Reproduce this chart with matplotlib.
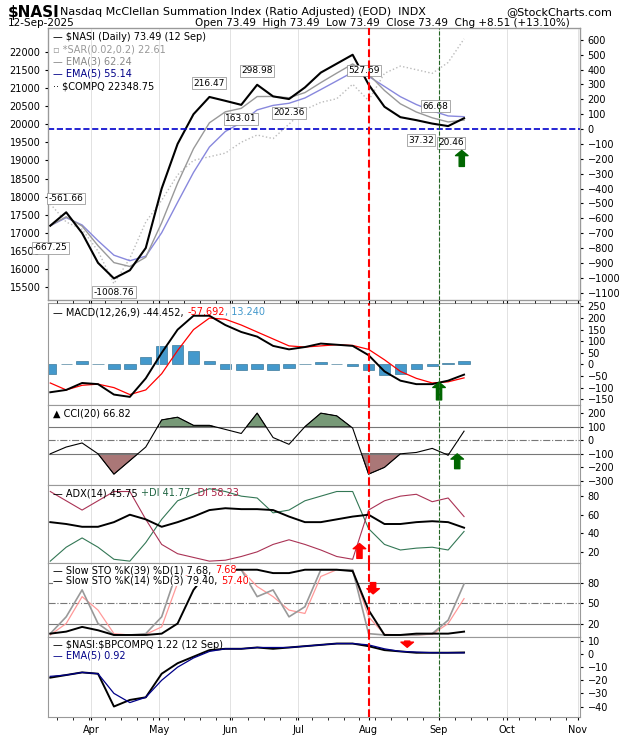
import numpy as np
import pandas as pd
import matplotlib
matplotlib.use("Agg")
import matplotlib.pyplot as plt
import matplotlib.dates as mdates

# weekly samples
dates = pd.date_range("2025-03-14", "2025-09-12", freq="W-FRI")
nasi = [-650, -560, -700, -900, -1005, -950, -800, -400, -100, 100, 216, 190, 163, 298, 220, 202,
        280, 380, 440, 500, 300, 150, 80, 60, 37, 20, 73]
compq = [17800, 17300, 17100, 16500, 15600, 16300, 17300, 17900, 18600, 19000, 19100, 19200, 19500,
         19700, 19600, 20000, 20400, 20600, 20700, 21100, 20650, 21400, 21600, 21500, 21400, 21700, 22350]
macd = [-120, -110, -80, -85, -130, -140, -60, 50, 150, 210, 210, 170, 140, 120, 80, 65,
        75, 90, 85, 80, 40, -30, -70, -85, -85, -70, -44]
signal = [-80, -110, -90, -85, -100, -130, -110, -40, 60, 150, 200, 195, 170, 140, 110, 80,
          75, 80, 85, 82, 65, 20, -30, -60, -80, -75, -58]
hist = [-40, 0, 15, 0, -20, -20, 30, 80, 85, 60, 15, -20, -25, -20, -25, -15,
        0, 10, 0, -5, -25, -45, -40, -20, -5, 5, 13]
cci = [-100, -50, -20, -100, -250, -150, -50, 150, 170, 110, 110, 80, 50, 200, 20, -30,
       100, 200, 180, 90, -250, -200, -100, -90, -60, -110, 67]
adx = [52, 50, 47, 47, 52, 60, 55, 47, 52, 58, 65, 67, 66, 66, 65, 58, 52, 52, 55, 58, 60, 50, 50, 52, 53, 52, 46]
pdi = [10, 25, 35, 25, 12, 10, 30, 55, 75, 82, 88, 85, 80, 78, 62, 65, 75, 80, 85, 85, 45, 28, 22, 24, 25, 22, 42]
mdi = [85, 75, 65, 75, 85, 85, 55, 28, 18, 14, 10, 11, 15, 20, 28, 33, 28, 22, 15, 12, 65, 75, 80, 82, 74, 78, 58]
k39 = [5, 8, 15, 10, 3, 3, 3, 5, 20, 70, 100, 100, 100, 100, 95, 95, 100, 100, 100, 98, 40, 3, 3, 5, 5, 5, 8]
k14 = [5, 30, 70, 20, 3, 3, 5, 30, 100, 100, 100, 100, 100, 60, 70, 30, 45, 100, 100, 100, 5, 3, 3, 3, 5, 25, 79]
d3 = [3, 20, 60, 40, 5, 3, 4, 15, 80, 100, 100, 100, 100, 75, 60, 40, 35, 90, 100, 100, 30, 4, 3, 3, 4, 20, 57]
ratio = [-18, -16, -14, -15, -40, -35, -33, -15, -7, -2, 3, 4, 4, 5, 4, 5, 6, 7, 8, 8, 6, 3, 2, 1, 1, 1, 1.2]
ratio_ema = [-17, -16, -14, -15, -30, -37, -33, -20, -10, -3, 2, 4, 4, 5, 5, 5, 6, 7, 8, 8, 7, 4, 2, 1.5, 1, 1, 0.9]

# peak/trough labels: date, text, offset in points
nasi_labels = [("2025-03-21", "-561.66", (0, 10)), ("2025-03-14", "-667.25", (0, -16)),
               ("2025-04-11", "-1008.76", (0, -10)), ("2025-05-23", "216.47", (0, 10)),
               ("2025-06-06", "163.01", (0, -10)), ("2025-06-13", "298.98", (0, 10)),
               ("2025-06-27", "202.36", (0, -10)), ("2025-07-30", "527.69", (0, 10)),
               ("2025-08-22", "66.68", (14, 10)), ("2025-08-29", "37.32", (-8, -12)),
               ("2025-09-05", "20.46", (2, -12))]

plt.rcParams["font.family"] = "DejaVu Sans"
plt.rcParams["font.size"] = 7.5
W, H = 620, 750
fig = plt.figure(figsize=(6.2, 7.5), dpi=100)
L, R = 48 / W, 580 / W


def panel(top, bot):
    return fig.add_axes([L, 1 - bot / H, R - L, (bot - top) / H])


def legend_line(ax, y, parts, bg=False):
    # parts: list of (text, colour), drawn one after another
    kw = dict(bbox=dict(fc="white", ec="none", pad=0)) if bg else {}
    t = ax.text(0.01, y, parts[0][0], transform=ax.transAxes, fontsize=7, va="top", color=parts[0][1], **kw)
    for s, c in parts[1:]:
        t = ax.annotate(s, xy=(1, 1), xycoords=t, va="top", fontsize=7, color=c, **kw)


def arrow(ax, x, y0, y1, color):
    ax.annotate("", (pd.Timestamp(x), y1), xytext=(pd.Timestamp(x), y0),
                arrowprops=dict(arrowstyle="simple,head_width=1.2,tail_width=0.5", color=color))


xmin, xmax = pd.Timestamp("2025-03-13"), pd.Timestamp("2025-11-02")
aug, sep = pd.Timestamp("2025-08-01"), pd.Timestamp("2025-09-01")

fig.text(8 / W, 1 - 12 / H, "$NASI", fontsize=11, weight="bold", va="center")
fig.text(60 / W, 1 - 12 / H, "Nasdaq McClellan Summation Index (Ratio Adjusted) (EOD)  INDX", fontsize=8, va="center")
fig.text(612 / W, 1 - 12 / H, "@StockCharts.com", fontsize=8, va="center", ha="right")
fig.text(8 / W, 1 - 23 / H, "12-Sep-2025", fontsize=7.5, va="center")
fig.text(570 / W, 1 - 23 / H, "Open 73.49  High 73.49  Low 73.49  Close 73.49  Chg +8.51 (+13.10%)",
         fontsize=7.5, va="center", ha="right")

panels = [panel(28, 300), panel(303, 405), panel(405, 485), panel(485, 563), panel(563, 637), panel(637, 717)]
for ax in panels:
    ax.set_xlim(xmin, xmax)
    ax.yaxis.tick_right()
    ax.tick_params(labelsize=7, length=2)
    ax.xaxis.set_major_locator(mdates.MonthLocator())
    ax.xaxis.set_minor_locator(mdates.WeekdayLocator(byweekday=0))
    ax.grid(axis="x", color="#dddddd", lw=0.6)
    ax.axvline(aug, color="red", ls="--", lw=1.5, zorder=5)
    ax.axvline(sep, color="#226622", ls="--", lw=0.8, zorder=5)
    for s in ax.spines.values():
        s.set_color("#999999")
    if ax is not panels[-1]:
        ax.set_xticklabels([])
panels[-1].xaxis.set_major_formatter(mdates.DateFormatter("%b"))

# main panel
ax0 = panels[0]
axc = ax0.twinx()
axc.yaxis.tick_left()
ax0.yaxis.tick_right()
axc.set_ylim(15150, 22650)
axc.set_yticks(np.arange(15500, 22001, 500))
axc.tick_params(labelsize=7, length=2)
axc.plot(dates, compq, color="#bbbbbb", ls=":", lw=1)
ax0.set_zorder(axc.get_zorder() + 1)
ax0.patch.set_visible(False)
ax0.set_ylim(-1150, 680)
ax0.set_yticks(np.arange(-1100, 601, 100))
nasi_s = pd.Series(nasi, index=dates)
ax0.plot(dates, nasi_s.ewm(span=5).mean(), color="#8888dd", lw=1)
ax0.plot(dates, nasi_s.ewm(span=3).mean(), color="#999999", lw=1)
ax0.plot(dates, nasi, color="black", lw=1.5)
ax0.axhline(0, color="#0000cc", ls="--", lw=1.2)
for d, t, off in nasi_labels:
    v = nasi[np.argmin(abs(dates - pd.Timestamp(d)))]
    ax0.annotate(t, (pd.Timestamp(d), v), xytext=off, textcoords="offset points",
                 ha="center", va="center", fontsize=6.5, bbox=dict(fc="white", ec="#888888", lw=0.5, pad=1))
leg0 = [("— $NASI (Daily) 73.49 (12 Sep)", "black"), ("▫ *SAR(0.02,0.2) 22.61", "#999999"),
        ("— EMA(3) 62.24", "#888888"), ("— EMA(5) 55.14", "#000088"), ("·· $COMPQ 22348.75", "black")]
for i, (t, c) in enumerate(leg0):
    ax0.text(0.01, 0.985 - i * 0.045, t, transform=ax0.transAxes, color=c, fontsize=7, va="top")
arrow(ax0, "2025-09-11", -270, -125, "#006600")

# MACD
ax1 = panels[1]
ax1.set_ylim(-175, 265)
ax1.set_yticks(np.arange(-150, 251, 50))
ax1.bar(dates, hist, width=5, color="#4499cc", edgecolor="#226688", lw=0.4)
ax1.plot(dates, signal, color="red", lw=0.9)
ax1.plot(dates, macd, color="black", lw=1.4)
legend_line(ax1, 0.96, [("— MACD(12,26,9) -44.452, ", "black"), ("-57.692", "red"), (", 13.240", "#4499cc")])
arrow(ax1, "2025-09-01", -165, -65, "#006600")

# CCI
ax2 = panels[2]
ax2.set_ylim(-330, 260)
ax2.set_yticks(np.arange(-300, 201, 100))
ax2.axhline(100, color="#777777", lw=0.8)
ax2.axhline(-100, color="#777777", lw=0.8)
ax2.axhline(0, color="#777777", lw=0.8, ls="-.")
cci_a = np.array(cci)
ax2.fill_between(dates, 100, cci_a, where=cci_a > 100, interpolate=True, color="#779977", ec="black", lw=0.5)
ax2.fill_between(dates, -100, cci_a, where=cci_a < -100, interpolate=True, color="#aa7777", ec="black", lw=0.5)
ax2.plot(dates, cci, color="black", lw=0.8)
legend_line(ax2, 0.95, [("▲ CCI(20) 66.82", "black")])
arrow(ax2, "2025-09-09", -230, -80, "#006600")

# ADX
ax3 = panels[3]
ax3.set_ylim(8, 92)
ax3.set_yticks([20, 40, 60, 80])
ax3.plot(dates, pdi, color="#337755", lw=0.8)
ax3.plot(dates, mdi, color="#aa3355", lw=0.8)
ax3.plot(dates, adx, color="black", lw=1.4)
legend_line(ax3, 0.96, [("— ADX(14) 45.75 ", "black"), ("+DI 41.77 ", "#226644"), ("-DI 58.23", "#aa2244")])
arrow(ax3, "2025-07-28", 10, 32, "red")

# Stochastics
ax4 = panels[4]
ax4.set_ylim(0, 110)
ax4.set_yticks([20, 50, 80])
ax4.axhline(80, color="#777777", lw=0.8)
ax4.axhline(20, color="#777777", lw=0.8)
ax4.axhline(50, color="#777777", lw=0.8, ls="-.")
ax4.plot(dates, d3, color="#ff9999", lw=0.9)
ax4.plot(dates, k14, color="#999999", lw=1.2)
ax4.plot(dates, k39, color="black", lw=1.4)
legend_line(ax4, 0.97, [("— Slow STO %K(39) %D(1) 7.68, ", "black"), ("7.68", "red")], bg=True)
legend_line(ax4, 0.83, [("— Slow STO %K(14) %D(3) 79.40, ", "black"), ("57.40", "red")], bg=True)
arrow(ax4, "2025-08-03", 85, 60, "red")

# ratio
ax5 = panels[5]
ax5.set_ylim(-48, 13)
ax5.set_yticks(np.arange(-40, 11, 10))
ax5.plot(dates, ratio, color="black", lw=1.4)
ax5.plot(dates, ratio_ema, color="#000088", lw=0.9)
legend_line(ax5, 0.96, [(r"— \$NASI:\$BPCOMPQ 1.22 (12 Sep)", "black")])
legend_line(ax5, 0.83, [("— EMA(5) 0.92", "#000088")])
arrow(ax5, "2025-08-18", 12, 3, "red")

fig.savefig("out.png", dpi=100)
